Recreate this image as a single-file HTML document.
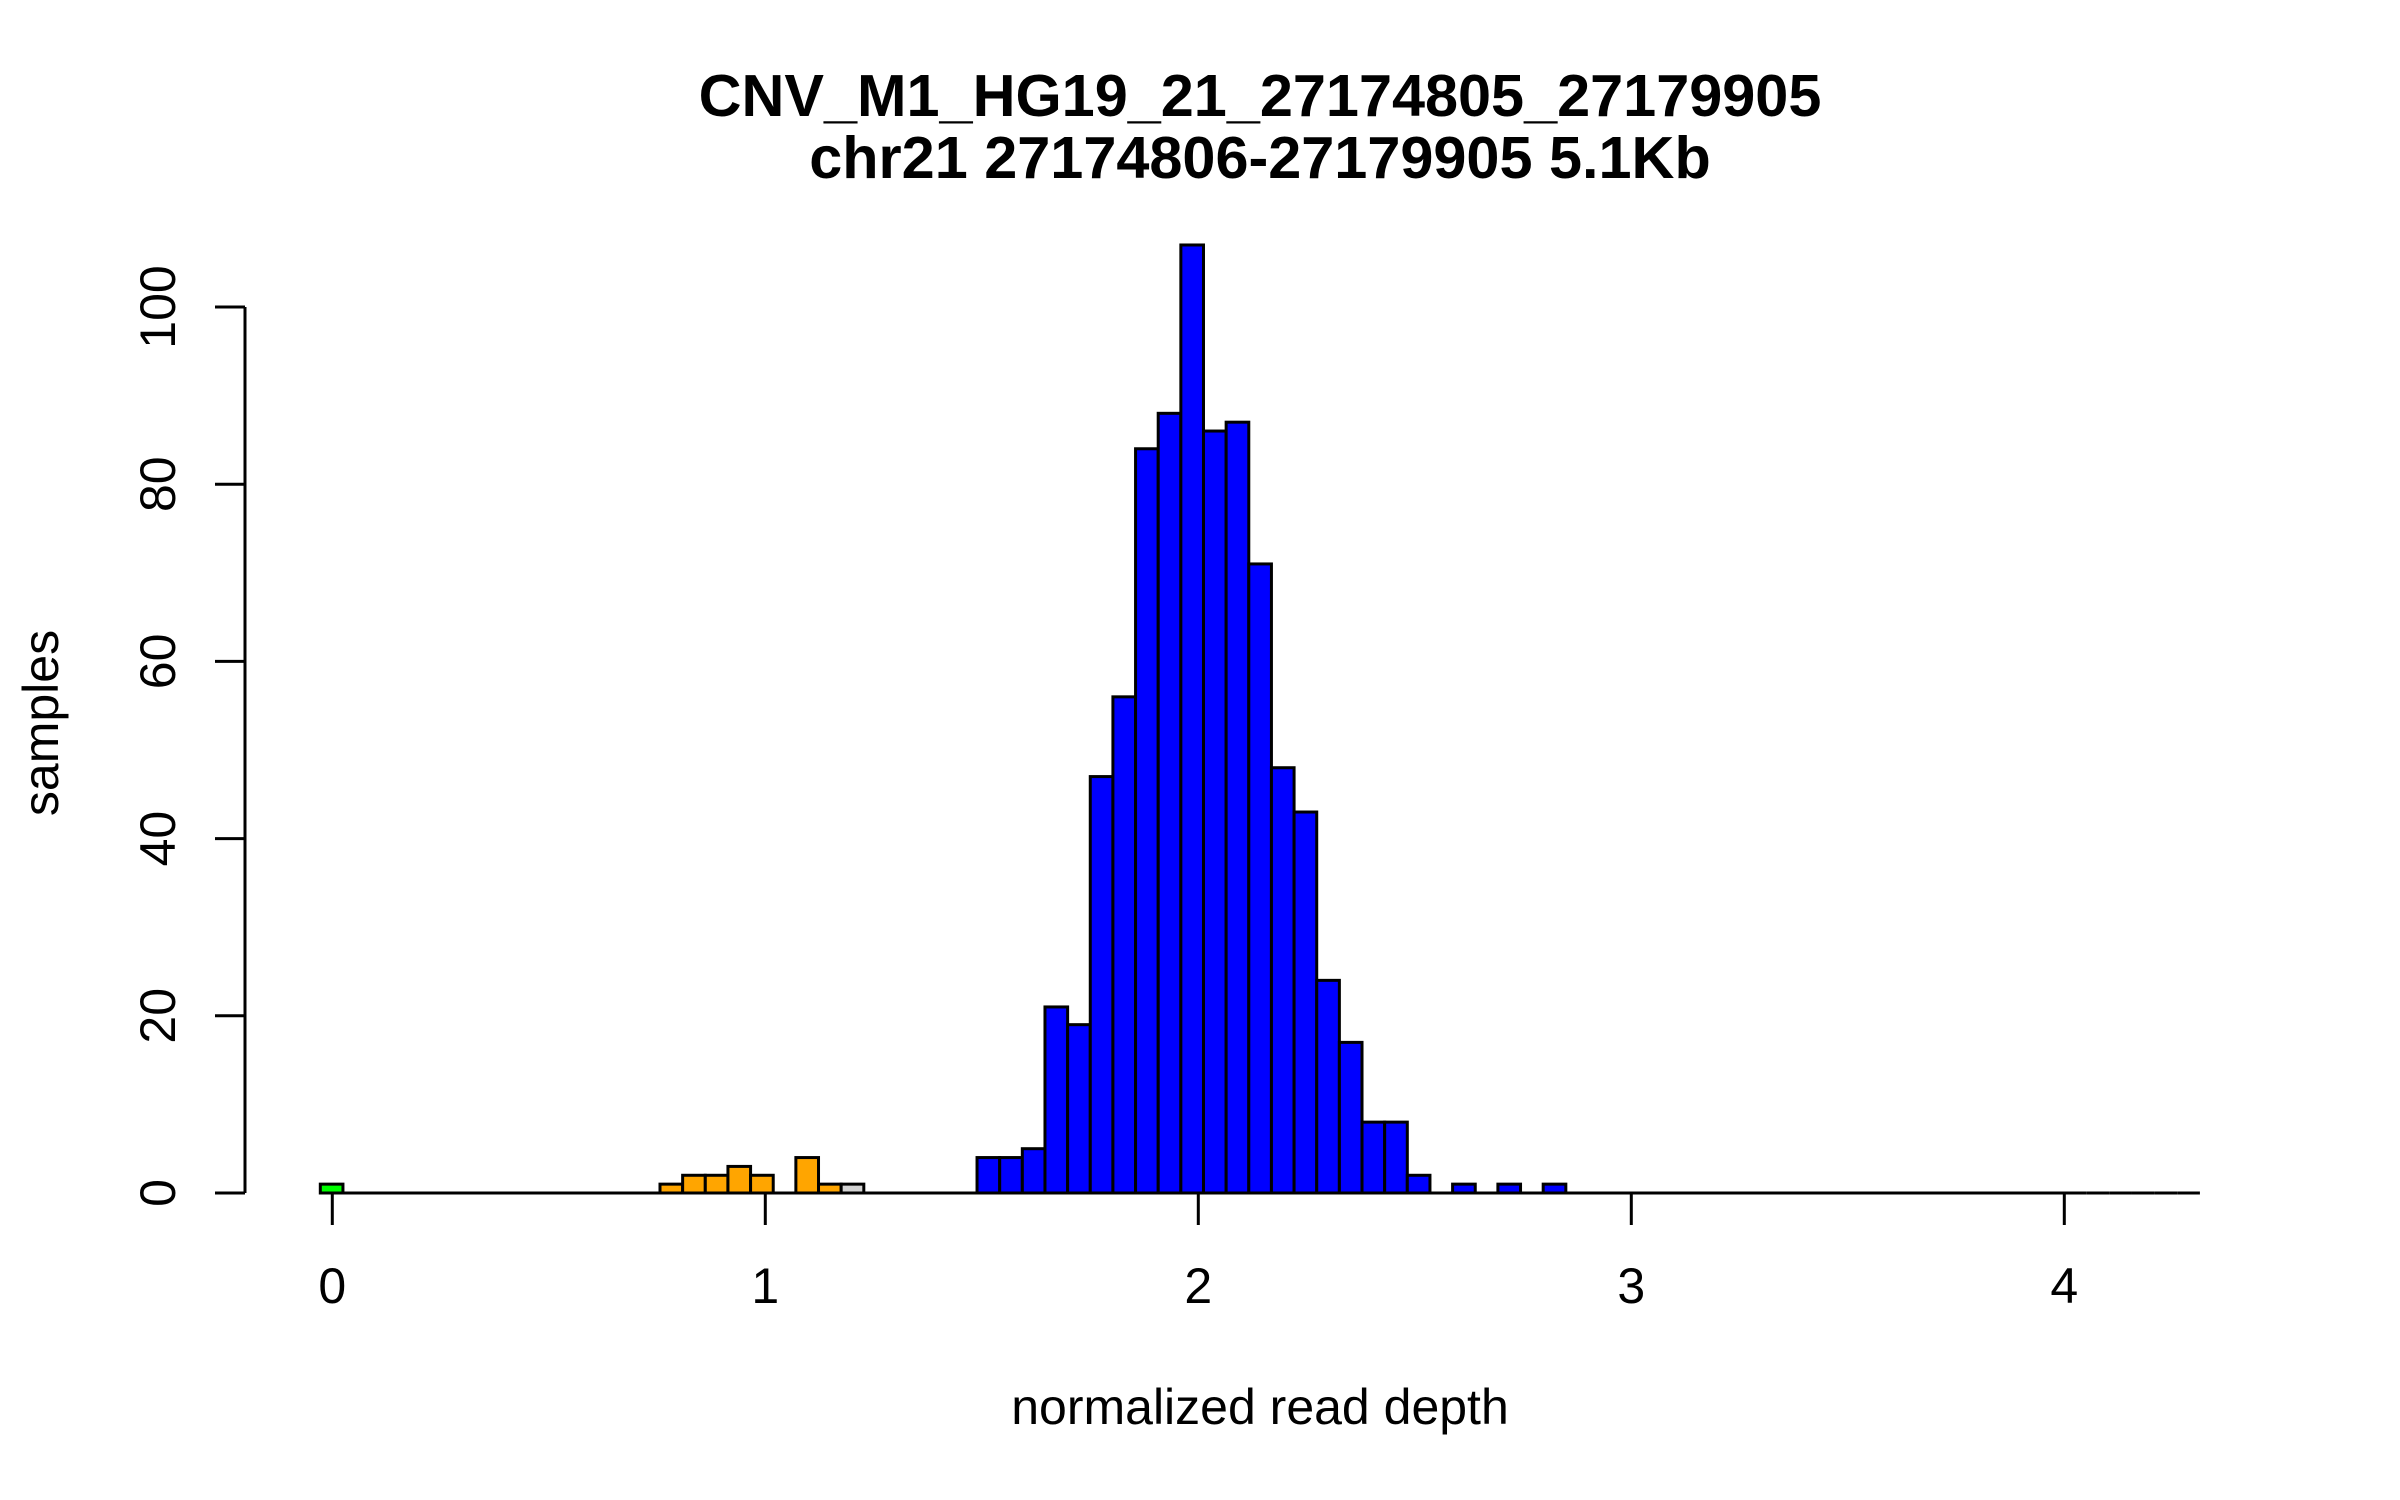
<!DOCTYPE html>
<html><head><meta charset="utf-8"><style>
html,body{margin:0;padding:0;background:#fff;}
svg{display:block;font-family:"Liberation Sans",Arial,sans-serif;}
</style></head><body>
<svg id="chart" width="2400" height="1500" viewBox="0 0 2400 1500" xmlns="http://www.w3.org/2000/svg">
<rect width="2400" height="1500" fill="#fff"/>
<text x="1260" y="116" font-size="59.4" font-weight="bold" text-anchor="middle">CNV_M1_HG19_21_27174805_27179905</text>
<text x="1260" y="178" font-size="59.4" font-weight="bold" text-anchor="middle">chr21 27174806-27179905 5.1Kb</text>
<text x="1260" y="1424" font-size="50" text-anchor="middle">normalized read depth</text>
<text x="0" y="0" font-size="50" text-anchor="middle" transform="translate(58,723) rotate(-90)">samples</text>
<g id="bars"></g>
<g id="axes"></g>
</svg>
<script>
const counts = [1,0,0,0,0,0,0,0,0,0,0,0,0,0,0,1,2,2,3,2,0,4,1,1,0,0,0,0,0,4,4,5,21,19,47,56,84,88,107,86,87,71,48,43,24,17,8,8,2,0,1,0,1,0,1,0,0,0,0,0,0,0,0,0,0,0,0,0,0,0,0,0,0,0,0,0,0,0,0,0,0,0,0];
const binColors = ['green','green','green','green','green','green','green','green','green','green','green','green','green','green','green','orange','orange','orange','orange','orange','orange','orange','orange','grey'];
const breakStart = -0.0277;
const binWidth = 0.0523;
const xTicks = [0,1,2,3,4];
const yTicks = [0,20,40,60,80,100];
const palette = {green:'#00ff00',orange:'#ffa500',grey:'#d3d3d3',blue:'#0000ff'};
function xs(v){return 332.3+433*v;}
function ys(v){return 1193-8.86*v;}
const NS='http://www.w3.org/2000/svg';
const bars=document.getElementById('bars');
counts.forEach((c,i)=>{
  const x0=xs(breakStart+i*binWidth), x1=xs(breakStart+(i+1)*binWidth);
  let el;
  if(c>0){
    el=document.createElementNS(NS,'rect');
    el.setAttribute('x',x0);el.setAttribute('width',x1-x0);
    el.setAttribute('y',ys(c));el.setAttribute('height',ys(0)-ys(c));
    el.setAttribute('fill',palette[i<binColors.length?binColors[i]:'blue']);
  } else {
    el=document.createElementNS(NS,'line');
    el.setAttribute('x1',x0);el.setAttribute('x2',x1);
    el.setAttribute('y1',ys(0));el.setAttribute('y2',ys(0));
  }
  el.setAttribute('stroke','#000');el.setAttribute('stroke-width','3');
  
  
  bars.appendChild(el);
});
const axes=document.getElementById('axes');
function line(x1,y1,x2,y2,name){
  const l=document.createElementNS(NS,'line');
  l.setAttribute('x1',x1);l.setAttribute('y1',y1);l.setAttribute('x2',x2);l.setAttribute('y2',y2);
  l.setAttribute('stroke','#000');l.setAttribute('stroke-width','3');
  
  
  axes.appendChild(l);
}
line(xs(xTicks[0]),ys(0),xs(xTicks[xTicks.length-1]),ys(0),'x-axis-line');
xTicks.forEach(t=>{
  line(xs(t),ys(0),xs(t),ys(0)+32,'x-tick');
  const tx=document.createElementNS(NS,'text');
  tx.setAttribute('x',xs(t));tx.setAttribute('y',1303);
  tx.setAttribute('font-size','50');tx.setAttribute('text-anchor','middle');
  tx.textContent=t;
  
  
  axes.appendChild(tx);
});
line(245,ys(yTicks[0]),245,ys(yTicks[yTicks.length-1]),'y-axis-line');
yTicks.forEach(t=>{
  line(215,ys(t),245,ys(t),'y-tick');
  const tx=document.createElementNS(NS,'text');
  tx.setAttribute('x',0);tx.setAttribute('y',0);
  tx.setAttribute('font-size','50');tx.setAttribute('text-anchor','middle');
  tx.setAttribute('transform','translate(175,'+ys(t)+') rotate(-90)');
  tx.textContent=t;
  
  
  axes.appendChild(tx);
});
</script>
</body></html>
